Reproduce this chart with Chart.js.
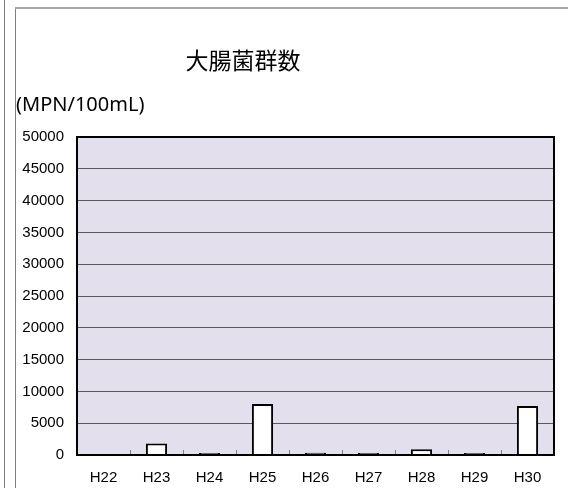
<!DOCTYPE html>
<html>
<head>
<meta charset="utf-8">
<script src="https://cdn.jsdelivr.net/npm/chart.js@4"></script>
<style>
    html, body { margin: 0; padding: 0; background: #ffffff; }
    #wrap { position: relative; width: 568px; height: 488px; overflow: hidden; }
    .edge { position: absolute; background: #7f7f7f; }
    canvas { position: absolute; left: 0; top: 0; }
</style>
</head>
<body>
<div id="wrap">
    <div class="edge" style="left:4px; top:0; width:1px; height:488px;"></div>
    <div class="edge" style="left:15px; top:8px; width:1px; height:480px;"></div>
    <div class="edge" style="left:15px; top:7px; width:553px; height:2px; background:#a6a6a6;"></div>
    <canvas id="myChart" width="568" height="488"></canvas>
</div>
<script>
var chart;

const titleText = '大腸菌群数';
const unitText = '(MPN/100mL)';
const years = ['H22', 'H23', 'H24', 'H25', 'H26', 'H27', 'H28', 'H29', 'H30'];
// H22 shows no bar at all in the picture
const counts = [null, 1800, 150, 8000, 350, 100, 900, 100, 7700];
const yTicks = [0, 5000, 10000, 15000, 20000, 25000, 30000, 35000, 40000, 45000, 50000];

// plot background, frame, category ticks and the two header texts
const framePlugin = {
    id: 'frame',
    beforeDraw: function (c) {
        const a = c.chartArea;
        const ctx = c.ctx;
        ctx.save();
        ctx.fillStyle = '#e4dfec';
        ctx.fillRect(a.left, a.top, a.right - a.left, a.bottom - a.top);
        ctx.restore();
    },
    afterDraw: function (c) {
        const a = c.chartArea;
        const ctx = c.ctx;
        const x = c.scales.x;
        ctx.save();

        // little ticks between the years, pointing up into the plot
        ctx.strokeStyle = '#808080';
        ctx.lineWidth = 1;
        const half = (x.getPixelForValue(1) - x.getPixelForValue(0)) / 2;
        for (var i = 1; i < years.length; i++) {
            const px = Math.round(x.getPixelForValue(i) - half) + 0.5;
            ctx.beginPath();
            ctx.moveTo(px, a.bottom);
            ctx.lineTo(px, a.bottom - 5);
            ctx.stroke();
        }

        ctx.strokeStyle = '#000000';
        ctx.lineWidth = 2;
        ctx.strokeRect(a.left, a.top, a.right - a.left, a.bottom - a.top);

        ctx.fillStyle = '#000000';
        ctx.textBaseline = 'middle';
        ctx.textAlign = 'center';
        ctx.font = '23px "Noto Sans CJK JP"';
        ctx.fillText(titleText, 243, 60);
        ctx.textAlign = 'left';
        ctx.font = '20px "Noto Sans"';
        ctx.fillText(unitText, 16, 105);
        ctx.restore();
    }
};

chart = new Chart(document.getElementById('myChart'), {
    type: 'bar',
    data: {
        labels: years,
        datasets: [{
            data: counts,
            backgroundColor: '#ffffff',
            borderColor: '#000000',
            borderWidth: 2,
            borderSkipped: 'start',
            minBarLength: 2,
            categoryPercentage: 1,
            barPercentage: 0.4
        }]
    },
    options: {
        responsive: false,
        animation: false,
        layout: {
            padding: { top: 137, right: 14, left: 0, bottom: 0 }
        },
        plugins: {
            legend: { display: false },
            tooltip: { enabled: false },
            title: { display: false }
        },
        scales: {
            x: {
                grid: { display: false },
                border: { display: false },
                ticks: {
                    color: '#000000',
                    padding: 6,
                    font: { family: '"Liberation Sans"', size: 15 }
                },
                afterFit: function (s) { s.height = 33; }
            },
            y: {
                min: 0,
                max: 50000,
                afterBuildTicks: function (s) {
                    s.ticks = yTicks.map(function (v) { return { value: v }; });
                },
                grid: {
                    color: '#595959',
                    lineWidth: 1,
                    drawTicks: false
                },
                border: { display: false },
                ticks: {
                    color: '#000000',
                    padding: 13,
                    font: { family: '"Liberation Sans"', size: 15 },
                    callback: function (value) { return String(value); }
                },
                afterFit: function (s) { s.width = 77; }
            }
        }
    },
    plugins: [framePlugin]
});
</script>
</body>
</html>
